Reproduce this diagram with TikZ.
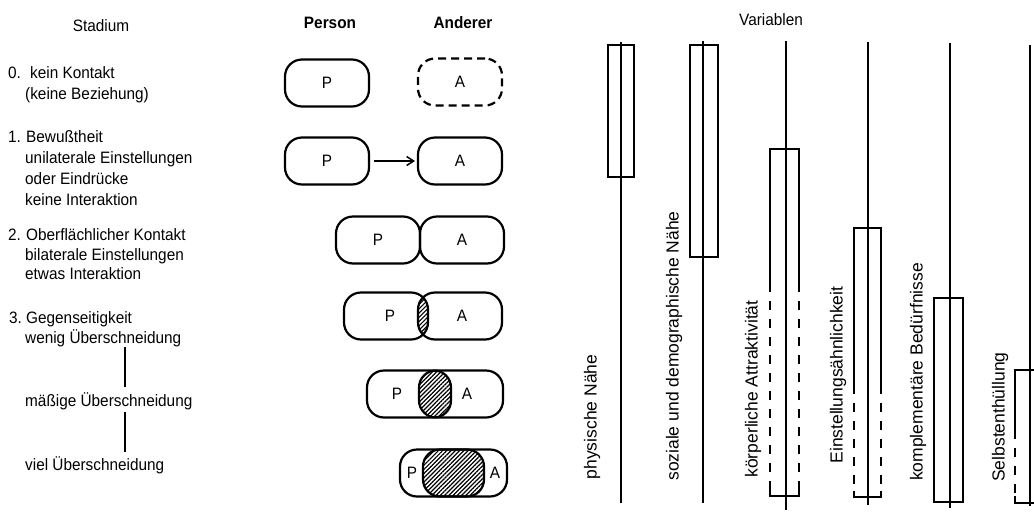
\documentclass[tikz,border=0pt]{standalone}
\usepackage{fontspec}
\setmainfont[FakeStretch=0.93]{Liberation Sans}
\newfontfamily\varfont{Liberation Sans}
\usetikzlibrary{patterns.meta,arrows.meta}

\tikzset{
  txt/.style={anchor=base west, inner sep=0pt, font=\fontsize{16.5}{20.5}\selectfont},
  head/.style={anchor=base, inner sep=0pt, font=\fontsize{16.5}{20}\selectfont},
  pabox/.style={draw, line width=2.2pt, rounded corners=17pt, minimum width=84pt,
    minimum height=47pt, inner sep=0pt, outer sep=0pt, font=\fontsize{16.5}{20}\selectfont},
  letter/.style={inner sep=0pt, font=\fontsize{16.5}{20}\selectfont},
  hatch/.style={pattern={Lines[angle=45,distance=3pt,line width=1.2pt]}},
  varaxis/.style={line width=2.2pt},
  varbox/.style={line width=1.6pt},
  varboxdash/.style={line width=1.6pt, dash pattern=on 9pt off 9pt},
  varlabel/.style={rotate=90, inner sep=0pt, font=\varfont\fontsize{17.5}{20}\selectfont}
}

\begin{document}
\begin{tikzpicture}[x=1pt, y=-1pt]
  \useasboundingbox (0,0) rectangle (1034,520);
  \clip (0,0) rectangle (1034,520);

  % Stadien
  \node[head] (stadium) at (101,31) {Stadium};
  \node[txt] (n0) at (8,78) {0.};
  \node[txt] (t0a) at (30,78) {kein Kontakt};
  \node[txt] (t0b) at (25,99) {(keine Beziehung)};
  \node[txt] (n1) at (8,142) {1.};
  \node[txt] (t1a) at (26,142) {Bewußtheit};
  \node[txt] (t1b) at (25,163) {unilaterale Einstellungen};
  \node[txt] (t1c) at (25,184) {oder Eindrücke};
  \node[txt] (t1d) at (25,205) {keine Interaktion};
  \node[txt] (n2) at (8,240) {2.};
  \node[txt] (t2a) at (26,240) {Oberflächlicher Kontakt};
  \node[txt] (t2b) at (25,260) {bilaterale Einstellungen};
  \node[txt] (t2c) at (25,279) {etwas Interaktion};
  \node[txt] (n3) at (9,323) {3.};
  \node[txt] (t3a) at (26,323) {Gegenseitigkeit};
  \node[txt] (t3b) at (25,343) {wenig Überschneidung};
  \node[txt] (t4) at (25,406) {mäßige Überschneidung};
  \node[txt] (t5) at (25,470) {viel Überschneidung};
  \coordinate (l1) at (125,347);
  \coordinate (l2) at (125,387);
  \coordinate (l3) at (125,412);
  \coordinate (l4) at (125,452);
  \draw[line width=1.2pt] (l1) -- (l2);
  \draw[line width=1.2pt] (l3) -- (l4);

  % Person und Anderer
  \node[head] (person) at (330,28) {\bfseries Person};
  \node[head] (anderer) at (463,28) {\bfseries Anderer};

  \node[pabox] (p0) at (327,83) {P};
  \node[pabox, dash pattern=on 8pt off 5pt] (a0) at (460,82) {A};

  \node[pabox] (p1) at (327,161) {P};
  \node[pabox] (a1) at (460,161) {A};
  \draw[line width=1.5pt, -{Straight Barb[length=7pt,width=9pt]}, shorten <=5pt, shorten >=3pt] (p1) -- (a1);

  \node[pabox] (p2) at (378,240) {P};
  \node[pabox] (a2) at (462,240) {A};

  \node[pabox] (p3) at (386,316) {};
  \node[pabox] (a3) at (460,316) {};
  \node[pabox] (p4) at (409,394) {};
  \node[pabox] (a4) at (461,394) {};
  \node[pabox] (p5) at (442,473) {};
  \node[pabox] (a5) at (465,473) {};
  \foreach \i in {3,4,5} {
    \begin{scope}
      \clip[rounded corners=17pt] (p\i.south west) rectangle (p\i.north east);
      \fill[hatch, rounded corners=17pt] (a\i.south west) rectangle (a\i.north east);
    \end{scope}
  }
  \node[letter] (lp3) at (390,316) {P};
  \node[letter] (la3) at (462,316) {A};
  \node[letter] (lp4) at (397,394) {P};
  \node[letter] (la4) at (467,394) {A};
  \node[letter] (lp5) at (412,473) {P};
  \node[letter] (la5) at (495,473) {A};

  % Variablen
  \node[head] (variablen) at (771,25) {Variablen};

  \draw[varaxis] (621,42) -- (621,503);
  \draw[varaxis] (703,41) -- (703,503);
  \draw[varaxis] (786,41) -- (786,510);
  \draw[varaxis] (868,42) -- (868,505);
  \draw[varaxis] (950,43) -- (950,508);
  \draw[varaxis] (1030,45) -- (1030,506);

  \draw[varbox] (608,45) rectangle (634,177);
  \draw[varbox] (690,45) rectangle (718,257);
  \draw[varbox] (770,283) |- (799,149) -- (799,283);
  \draw[varboxdash] (770,283) -- (770,490) (799,283) -- (799,490);
  \draw[varbox] (770,490) |- (799,496) -- (799,490);
  \draw[varbox] (854,385) |- (881,228) -- (881,385);
  \draw[varboxdash] (854,385) -- (854,491) (881,385) -- (881,491);
  \draw[varbox] (854,491) |- (881,497) -- (881,491);
  \draw[varbox] (934,298) rectangle (963,502);
  \draw[varbox] (1015,430) |- (1048,370) -- (1048,430);
  \draw[varboxdash] (1015,430) -- (1015,496) (1048,430) -- (1048,496);
  \draw[varbox] (1015,496) |- (1048,503) -- (1048,496);

  \node[varlabel] (v1) at (592,417) {physische Nähe};
  \node[varlabel] (v2) at (674,346) {soziale und demographische Nähe};
  \node[varlabel] (v3) at (753,389) {körperliche Attraktivität};
  \node[varlabel] (v4) at (838,375) {Einstellungsähnlichkeit};
  \node[varlabel] (v5) at (918,372) {komplementäre Bedürfnisse};
  \node[varlabel] (v6) at (1000,417) {Selbstenthüllung};
\end{tikzpicture}
\end{document}
